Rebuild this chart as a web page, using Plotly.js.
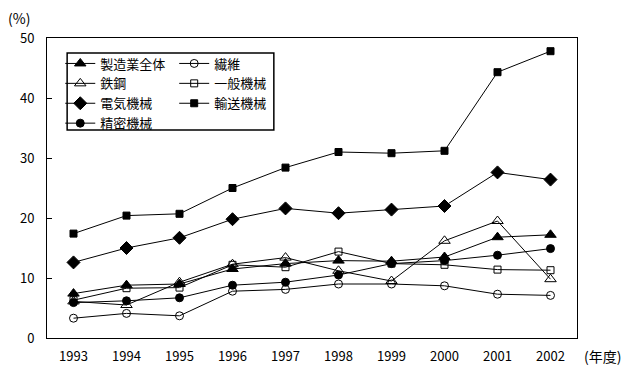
<!DOCTYPE html>
<html>
<head>
<meta charset="utf-8">
<script src="https://cdn.plot.ly/plotly-3.0.1.min.js"></script>
<style>html,body{margin:0;padding:0;background:#fff;}#chart{width:629px;height:372px;}</style>
</head>
<body>
<div id="chart"></div>
<script>
const years = ['1993','1994','1995','1996','1997','1998','1999','2000','2001','2002'];
const seriesNames = ['製造業全体','鉄鋼','電気機械','精密機械','繊維','一般機械','輸送機械'];
const manufacturingAll = [7.4, 8.8, 9.0, 11.5, 12.4, 12.9, 12.8, 13.5, 16.8, 17.2];
const steel = [6.1, 5.5, 9.3, 12.3, 13.4, 11.2, 9.5, 16.2, 19.5, 9.8];
const electrical = [12.6, 15.0, 16.7, 19.8, 21.6, 20.8, 21.4, 22.0, 27.6, 26.4];
const precision = [5.9, 6.2, 6.7, 8.8, 9.3, 10.5, 12.4, 12.9, 13.8, 14.9];
const textile = [3.3, 4.1, 3.7, 7.8, 8.1, 9.0, 9.0, 8.7, 7.3, 7.1];
const generalMachinery = [6.3, 8.3, 8.4, 12.2, 11.8, 14.4, 12.4, 12.2, 11.4, 11.3];
const transport = [17.4, 20.4, 20.7, 25.0, 28.4, 31.0, 30.8, 31.2, 44.3, 47.8];
const yTicks = [0, 10, 20, 30, 40, 50];

const FONT = '"Noto Sans CJK JP", "DejaVu Sans", sans-serif';
function tr(name, y, symbol, size, legend) {
  return {
    x: years, y: y, name: name, type: 'scatter', mode: 'lines+markers',
    line: {color: '#000', width: 1},
    marker: {symbol: symbol, size: size, color: '#000', line: {color: '#000', width: 1}},
    legend: legend
  };
}
const data = [
  tr(seriesNames[0], manufacturingAll, 'triangle-up', 10, 'legend'),
  tr(seriesNames[1], steel, 'triangle-up-open', 10, 'legend'),
  tr(seriesNames[2], electrical, 'diamond', 10, 'legend'),
  tr(seriesNames[3], precision, 'circle', 8, 'legend'),
  tr(seriesNames[4], textile, 'circle-open', 8, 'legend2'),
  tr(seriesNames[5], generalMachinery, 'square-open', 7, 'legend2'),
  tr(seriesNames[6], transport, 'square', 7, 'legend2')
];
const legendCommon = {
  font: {family: FONT, size: 13, color: '#000'},
  bgcolor: 'rgba(0,0,0,0)', borderwidth: 0,
  itemwidth: 30, tracegroupgap: 0, orientation: 'v',
  xanchor: 'left', yanchor: 'top', traceorder: 'normal'
};
const layout = {
  width: 629, height: 372,
  margin: {l: 47, r: 52, t: 38, b: 34},
  paper_bgcolor: '#fff', plot_bgcolor: '#fff',
  font: {family: FONT, size: 13, color: '#000'},
  showlegend: true,
  legend: Object.assign({}, legendCommon, {x: 0.025, y: 0.965}),
  legend2: Object.assign({}, legendCommon, {x: 0.24, y: 0.965}),
  xaxis: {
    type: 'category', range: [-0.5, 9.5],
    showline: true, mirror: true, linecolor: '#000', linewidth: 1,
    ticks: '', showgrid: false, zeroline: false, ticklabelstandoff: 6,
    tickfont: {family: FONT, size: 13, color: '#000'}
  },
  yaxis: {
    range: [0, 50], tickvals: yTicks, ticktext: yTicks.map(String),
    showline: true, mirror: true, linecolor: '#000', linewidth: 1,
    ticks: 'inside', ticklen: 5, tickcolor: '#000', ticklabelstandoff: 9,
    showgrid: false, zeroline: false,
    tickfont: {family: FONT, size: 13, color: '#000'}
  },
  shapes: [{
    type: 'rect', xref: 'paper', yref: 'paper',
    x0: 0.038, x1: 0.428, y0: 0.693, y1: 0.95,
    line: {color: '#000', width: 1.5}, fillcolor: 'rgba(0,0,0,0)'
  }],
  annotations: [
    {text: '(%)', xref: 'paper', yref: 'paper', x: -0.077, y: 1.067, xanchor: 'left', yanchor: 'middle', showarrow: false, font: {family: FONT, size: 14}},
    {text: '(年度)', xref: 'paper', yref: 'paper', x: 1.01, y: -0.06, xanchor: 'left', yanchor: 'middle', showarrow: false, font: {family: FONT, size: 14}}
  ]
};
Plotly.newPlot('chart', data, layout, {displayModeBar: false, staticPlot: true});
</script>
</body>
</html>
